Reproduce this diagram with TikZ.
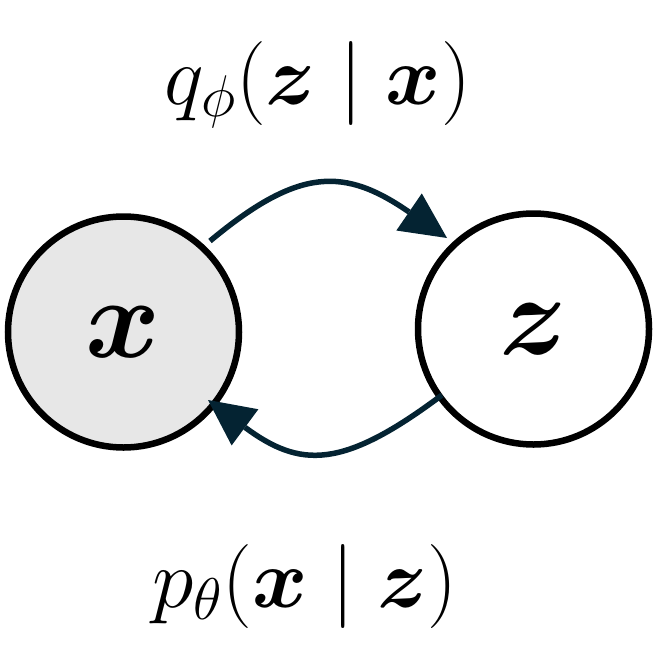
\RequirePackage{fix-cm}
\documentclass[tikz,border=0pt]{standalone}
\usepackage{amsmath,bm}
\usetikzlibrary{arrows.meta}
\definecolor{arrowc}{RGB}{4,35,50}
\definecolor{obsfill}{RGB}{231,231,231}
\begin{document}
\begin{tikzpicture}[x=1pt,y=-1pt,
  varnode/.style={circle,draw=black,line width=6.5pt,minimum size=231pt,inner sep=0pt,
    font=\fontsize{114}{124}\selectfont},
  lbl/.style={anchor=base,inner sep=0pt,font=\fontsize{84}{92}\selectfont},
  flow/.style={draw=arrowc,line width=5.5pt,
    -{Triangle[length=46pt,width=45pt,line width=0pt]}}]
\useasboundingbox (0,0) rectangle (655,664);
\node[varnode,fill=obsfill] (x) at (123.5,332) {$\bm{x}$};
\node[varnode,fill=white] (z) at (533.5,329) {$\bm{z}$};
\node[lbl] (q) at (318,104) {$q_{\phi}(\bm{z}\mid\bm{x})$};
\node[lbl] (p) at (305,607) {$p_{\theta}(\bm{x}\mid\bm{z})$};
\coordinate (s1) at (210,241);
\coordinate (e1) at (447,238);
\coordinate (s2) at (442,395);
\coordinate (e2) at (208,400);
\draw[flow] (s1) .. controls (300,166) and (345,168) .. (e1);
\draw[flow] (s2) .. controls (342,470) and (300,468) .. (e2);
\end{tikzpicture}
\end{document}
